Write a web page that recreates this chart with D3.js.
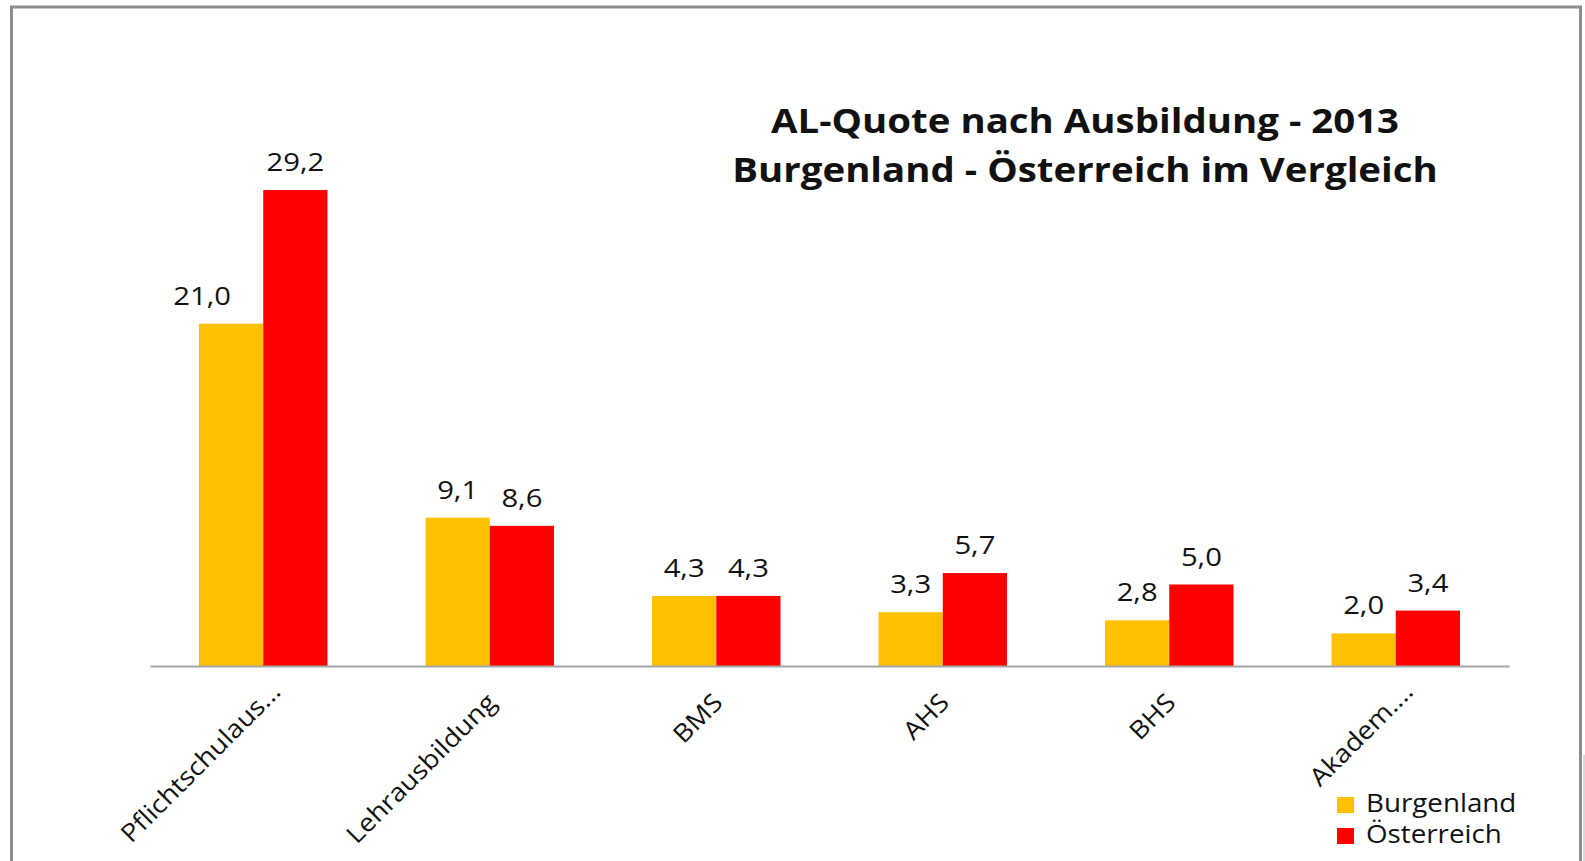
<!DOCTYPE html>
<html>
<head>
<meta charset="utf-8">
<script src="https://cdn.jsdelivr.net/npm/d3@7"></script>
<style>
  body { margin: 0; background: #fff; }
  svg { display: block; }
  text { font-family: "Open Sans", sans-serif; fill: #111; }
</style>
</head>
<body>
<svg id="chart"></svg>
<script>
// data
var categories = ["Pflichtschulaus...", "Lehrausbildung", "BMS", "AHS", "BHS", "Akadem...."];
var seriesNames = ["Burgenland", "Österreich"];
var burgenland = [21.0, 9.1, 4.3, 3.3, 2.8, 2.0];
var oesterreich = [29.2, 8.6, 4.3, 5.7, 5.0, 3.4];
var titleLines = ["AL-Quote nach Ausbildung - 2013", "Burgenland - Österreich im Vergleich"];

var width = 1585;
var height = 861;
var colors = ["#FFC000", "#FF0000"];
var stretch = 1.13; // the original text is a bit wide, stretch it horizontally

var svg = d3.select("#chart").attr("width", width).attr("height", height);

// frame
svg.append("rect").attr("x", 1583).attr("y", 755).attr("width", 2).attr("height", 106).attr("fill", "#d8d8d8");
svg.append("rect")
  .attr("x", 11.5).attr("y", 7).attr("width", 1569).attr("height", 900)
  .attr("fill", "none").attr("stroke", "#8c8c8c").attr("stroke-width", 3);

var margin = {left: 150, right: 1509, bottom: 666};

var x0 = d3.scaleBand()
  .domain(categories)
  .range([margin.left, margin.right])
  .paddingInner(0).paddingOuter(0);

// two bars of 64px centred in each band
var x1 = d3.scaleBand()
  .domain(seriesNames)
  .range([49, x0.bandwidth() - 49]);

var y = d3.scaleLinear()
  .domain([0, 35])
  .range([margin.bottom, margin.bottom - 35 * 16.3]);

var rows = categories.map(function(c, i) {
  return {cat: c, values: [
    {name: seriesNames[0], v: burgenland[i]},
    {name: seriesNames[1], v: oesterreich[i]}
  ]};
});

var groups = svg.append("g").selectAll("g")
  .data(rows)
 .enter().append("g")
  .attr("transform", function(d) { return "translate(" + x0(d.cat) + ",0)"; });

groups.selectAll("rect")
  .data(function(d) { return d.values; })
 .enter().append("rect")
  .attr("x", function(d) { return x1(d.name); })
  .attr("y", function(d) { return y(d.v); })
  .attr("width", x1.bandwidth())
  .attr("height", function(d) { return y(0) - y(d.v); })
  .attr("fill", function(d, i) { return colors[i]; });

var fmt = function(v) { return d3.format(".1f")(v).replace(".", ","); };

groups.selectAll("text.val")
  .data(function(d, gi) { return d.values.map(function(v) { v.gi = gi; return v; }); })
 .enter().append("text")
  .attr("class", "val")
  .attr("transform", function(d) {
    // first label was moved left in the original
    var shift = (d.gi === 0 && d.name === seriesNames[0]) ? -29 : 0;
    var tx = x1(d.name) + x1.bandwidth() / 2 + shift;
    return "translate(" + tx + "," + (y(d.v) - 19) + ") scale(1.17,1)";
  })
  .attr("text-anchor", "middle")
  .style("font-size", "25px")
  .text(function(d) { return fmt(d.v); });

// x axis
var xAxis = svg.append("g")
  .attr("transform", "translate(0," + margin.bottom + ")")
  .call(d3.axisBottom(x0).tickSize(0).tickPadding(0));
xAxis.select(".domain").attr("stroke", "#a6a6a6").attr("stroke-width", 2);
xAxis.selectAll(".tick text")
  .attr("text-anchor", "end")
  .attr("dy", 0)
  // truncated labels sit a little further along the diagonal
  .attr("dx", function(d) { return /\.\.\.$/.test(d) ? 14 : 0; })
  .attr("transform", "translate(8,38) rotate(-45) scale(1.1,1)")
  .style("font-size", "25px")
  .style("font-family", "'Open Sans', sans-serif")
  .attr("fill", "#111");

// title
svg.append("g").selectAll("text")
  .data(titleLines)
 .enter().append("text")
  .attr("transform", function(d, i) { return "translate(1085," + (133 + i * 49) + ") scale(" + stretch + ",1)"; })
  .attr("text-anchor", "middle")
  .style("font-size", "34px")
  .style("font-weight", "bold")
  .text(function(d) { return d; });

// legend
var legend = svg.append("g").selectAll("g")
  .data(seriesNames)
 .enter().append("g")
  .attr("transform", function(d, i) { return "translate(1337," + (797 + i * 31) + ")"; });
legend.append("rect").attr("width", 17).attr("height", 16)
  .attr("fill", function(d, i) { return colors[i]; });
legend.append("text")
  .attr("transform", "translate(29,15) scale(1.11,1)")
  .style("font-size", "25px")
  .text(function(d) { return d; });
</script>
</body>
</html>
